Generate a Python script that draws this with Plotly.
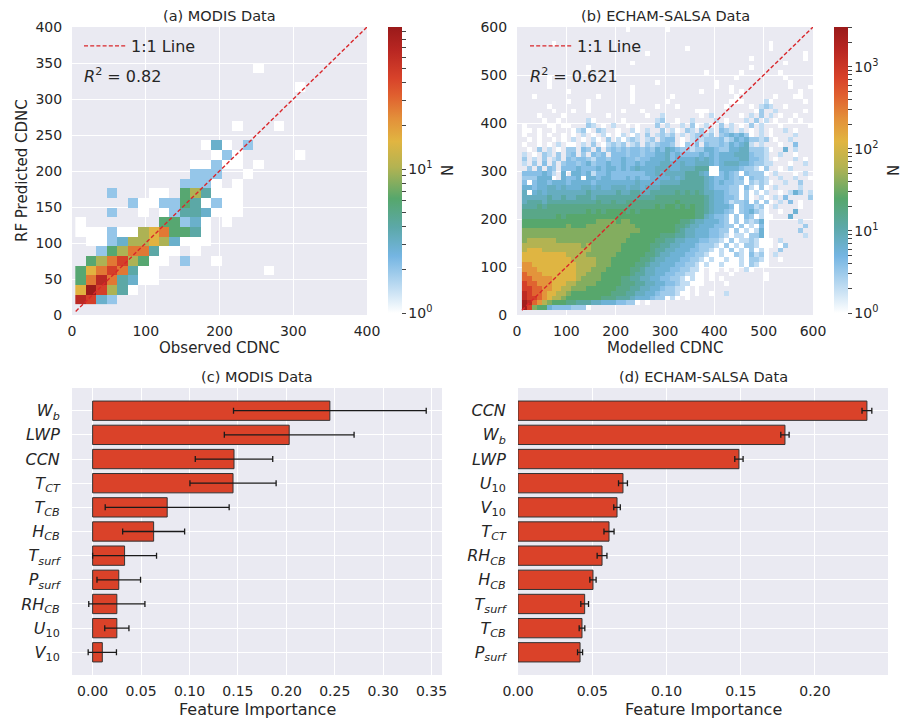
import numpy as np
import plotly.graph_objects as go

# ---------------- DATA ----------------
# (a) MODIS 2D histogram, rows top -> bottom, '.' = empty bin, codes map to counts
MODIS_ROWS = [
    "...........|......0....",
    "...........|...........",
    "...........|..........0",
    "...........|...........",
    "...........|...........",
    "...........|...........",
    "...........|....0...0..",
    "...........|...........",
    "...........|.030.2.....",
    "...........|..020.....0",
    "...........|00200.0....",
    "...........|222..0.....",
    "..........2|220.0......",
    "...2...00.5|64000......",
    ".....200225|40200......",
    "...2..0.024|43000......",
    "0.......552|30.0.......",
    "00020067855|40.........",
    ".0023667630|00.........",
    "..25688400.|0..........",
    ".56896500.2|..0........",
    "57898400...|.......0...",
    "58a84300...|...........",
    "7b9640.....|...........",
    "a932.......|...........",
]
MODIS_CODES = "0123456789ab"
MODIS_COUNTS = [1, 2, 2, 3, 4, 6, 10, 16, 27, 45, 65, 95]
MODIS_X0, MODIS_DX, MODIS_NX = 4.5, 14.2, 22
MODIS_Y0, MODIS_DY = 14.8, 13.4
MODIS_VMAX = 97

# (b) ECHAM-SALSA 2D histogram, rows top -> bottom
ECHAM_ROWS = [
    "..........|..........|.0.......0|..........|..........|.........",
    "..........|..........|..........|..........|..........|.........",
    "..........|..........|..........|..........|..........|.........",
    "......0...|..........|..........|..........|..........|0........",
    "..........|..........|..........|...0......|..........|0........",
    "..........|..........|.....0....|..........|..........|.......0.",
    "..........|..........|..........|..........|......0...|.......0.",
    "..........|..........|..0.......|..........|..........|...0.....",
    "..........|...0......|..........|..........|......0...|.........",
    "..........|..........|..........|.......0..|....0.....|..0......",
    ".....0....|..........|..........|..........|...0......|...0.....",
    ".....0....|..........|.......0..|.........0|..........|....0....",
    ".....0....|..........|..0.......|.........0|..0.......|....0...0",
    ".........0|..........|..0.......|......0...|..0.0.....|......0..",
    "..0.......|.....0....|..0.......|0.........|...0......|.0...00..",
    ".........0|...0......|..0......0|..........|..000....1|0......0.",
    ".....0....|...0......|.......0..|.0........|.0....0.12|1..0.....",
    "......0...|0..0......|0...0.....|.....000..|.......02.|.1.....0.",
    "...0....0.|.......0..|.....0..1.|......0.1.|....0.1.2.|1.0..0...",
    "....0..0..|...10.....|0......12.|.0..1....1|.0...1.2.1|.0..0.0..",
    "0....00.00|...21.0.1.|.0.0...2.1|..1.20.1..|2.1.0.2.1.|..0.....0",
    "00.0..0...|0120.21..0|..10.1..2.|10.21.2.1.|321.1.0.1.|0..1.0...",
    "0..0.0..0.|0.1.0.10.0|1.01.2.121|2.1.12212.|2343420.1.|0....1...",
    ".0.0..0.0.|1.0.10.2.1|0121.12.23|3.0.121222|3124342212|.0..1....",
    "0..0.0.1.0|0.1.2.0121|2.12.21233|2.0213.322|3243451.1.|..0..3...",
    ".0.2.1.0.2|2.32.3.232|3233232435|4322122443|2244552221|0..4.1...",
    "1.0.21.2.2|3.2.323.33|3233233445|3433334343|4445553221|..1..0...",
    "2.1.2.12.3|2332133233|4332334445|3444454543|4444553321|.0...1.0.",
    "1.2.3.2.23|3234233433|4334344455|4454455543|4555443221|1...0..1.",
    ".2.3.32.33|3433343443|4345444555|4455566600|4444322102|..0.1....",
    "3333431.4.|4434133433|3333344545|5556665400|3432032220|.1...0.1.",
    "2224440.43|3404434433|3434334444|5456666543|3432303221|..1..1..0",
    "3034434443|4444344444|4445444455|5566666543|4332202121|0..1..2..",
    "4434455454|4455454455|5455455566|6666666543|3322031020|.1....1..",
    "5045455555|5556555556|5566556666|6767676554|4322020101|..0.142.1",
    "5555565565|5666566666|6666666777|7777777654|4332020.10|.1.3....2",
    "5666566666|6666676676|6777777777|7877777654|4312230202|0.1.3.0..",
    "6667677777|7777777777|7777777878|8787877654|4430233120|.1....0..",
    "7777777777|7778787888|8787888888|8888877654|4320234210|..0..4...",
    "7777777878|8888888888|8888888888|8888877543|3202032010|0...4....",
    "8888888888|8888899998|9988888888|8877655444|3202021240|......1..",
    "8888888889|8889999999|9998888888|8776554443|3220201030|.......2.",
    "9999999999|9999999999|9999888888|8765544433|2202010140|......2..",
    "9999999999|9999999999|9988888877|7665544433|2101102240|.......1.",
    "9aaaaaa999|9999999999|9888888776|6554443322|1020112100|0.1......",
    "aaaaaaaaaa|aa9a999999|8888887766|5544432221|0201022100|0.02.....",
    "abbbaaaaaa|aaaa999999|8888887665|5444332210|1020102010|..2......",
    "bbbbbbbbba|aaa9999998|8888877655|4443322100|1002103120|.1.......",
    "bbbbbbbbbb|aaaaa99988|8888776554|4433221010|0100102210|..0......",
    "ccbbbbbbbb|baaaa99988|8887765544|4332210100|1000102100|.........",
    "cccbbbbbbb|baaa999888|8877655444|3322110.00|.0.0.10...|.........",
    "dcccbbbbbb|baa9998888|8876655443|3221100.0.|..0......0|.........",
    "ddccccbbbb|ba99998888|7766554433|2210100.0.|0........0|.........",
    "eddcccbbba|a999988888|7776655443|3211000...|.0........|.........",
    "eeddccbbaa|9998888887|7766554432|2110.0....|..........|.........",
    "feddcbbaa9|8888888877|7665544322|2100.0..0.|.1........|.........",
    "feedcbaa98|8888887776|6654443220|10.0......|..........|.........",
    "gfdca98887|7666554443|3220.0....|..........|..........|.........",
    "ge98843333|2220......|..........|..........|..........|.........",
]
ECHAM_CODES = "0123456789abcdefg"
ECHAM_COUNTS = [1, 2, 3, 4, 6, 8, 12, 17, 25, 38, 60, 120, 220, 420, 800, 1400, 2600]
ECHAM_X0, ECHAM_DX, ECHAM_NX = 10, 10, 59
ECHAM_Y0, ECHAM_DY = 10, 10
ECHAM_VMAX = 3060

line_a = [5, 400]
line_b = [10, 600]
r2_a = "0.82"
r2_b = "0.621"

# (c) MODIS feature importance
modis_features = ["W_b", "LWP", "CCN", "T_CT", "T_CB", "H_CB", "T_surf", "P_surf", "RH_CB", "U_10", "V_10"]
modis_importance = [0.245, 0.203, 0.146, 0.145, 0.077, 0.063, 0.033, 0.027, 0.025, 0.025, 0.010]
modis_err = [0.0995, 0.067, 0.040, 0.0445, 0.064, 0.032, 0.033, 0.0225, 0.029, 0.0125, 0.0146]

# (d) ECHAM-SALSA feature importance
echam_features = ["CCN", "W_b", "LWP", "U_10", "V_10", "T_CT", "RH_CB", "H_CB", "T_surf", "T_CB", "P_surf"]
echam_importance = [0.235, 0.1798, 0.1488, 0.0707, 0.0667, 0.0613, 0.0566, 0.0505, 0.0449, 0.0431, 0.0418]
echam_err = [0.0033, 0.0028, 0.0028, 0.0030, 0.0022, 0.0034, 0.0033, 0.0021, 0.0026, 0.0019, 0.0017]

LABELS = {
    "W_b": "<i>W</i><sub><i>b</i></sub>",
    "LWP": "<i>LWP</i>",
    "CCN": "<i>CCN</i>",
    "T_CT": "<i>T</i><sub><i>CT</i></sub>",
    "T_CB": "<i>T</i><sub><i>CB</i></sub>",
    "H_CB": "<i>H</i><sub><i>CB</i></sub>",
    "T_surf": "<i>T</i><sub><i>surf</i></sub>",
    "P_surf": "<i>P</i><sub><i>surf</i></sub>",
    "RH_CB": "<i>RH</i><sub><i>CB</i></sub>",
    "U_10": "<i>U</i><sub>10</sub>",
    "V_10": "<i>V</i><sub>10</sub>",
}

# ---------------- HELPERS ----------------
W, H = 905, 719
FONT = "DejaVu Sans"
TXT = "#262626"
BG = "#eaeaf2"


def px(x):
    return x / W


def py(y):
    return 1 - y / H


def decode(rows, codes, counts, ncols):
    grid = []
    for row in reversed(rows):
        s = row.replace("|", "")
        s = (s + "." * ncols)[:ncols]
        grid.append([None if ch == "." else float(np.log10(counts[codes.index(ch)])) for ch in s])
    return grid


colorscale = [
    [0.00, "#ffffff"],
    [0.09, "#bfdcf2"],
    [0.20, "#74b5e2"],
    [0.30, "#5ca8a8"],
    [0.40, "#56a76c"],
    [0.51, "#b3b352"],
    [0.60, "#e1b541"],
    [0.68, "#e3903a"],
    [0.76, "#e0602f"],
    [0.82, "#d8432a"],
    [0.92, "#b82622"],
    [1.00, "#9a1a1a"],
]


def cbar_ticks(ndec, vmax):
    vals, txt = [], []
    for d in range(ndec + 1):
        for m in range(1, 10):
            v = float(np.log10(m * 10 ** d))
            if v <= np.log10(vmax):
                vals.append(v)
                txt.append(f"10<sup>{d}</sup>" if m == 1 else " ")
    return vals, txt


modis_grid = decode(MODIS_ROWS, MODIS_CODES, MODIS_COUNTS, MODIS_NX)
echam_grid = decode(ECHAM_ROWS, ECHAM_CODES, ECHAM_COUNTS, ECHAM_NX)
mx = (MODIS_X0 + MODIS_DX * np.arange(MODIS_NX + 1)).tolist()
my = (MODIS_Y0 + MODIS_DY * np.arange(len(MODIS_ROWS) + 1)).tolist()
ex = (ECHAM_X0 + ECHAM_DX * np.arange(ECHAM_NX + 1)).tolist()
ey = (ECHAM_Y0 + ECHAM_DY * np.arange(len(ECHAM_ROWS) + 1)).tolist()

ta_v, ta_t = cbar_ticks(1, MODIS_VMAX)
tb_v, tb_t = cbar_ticks(3, ECHAM_VMAX)

CB_COMMON = dict(thickness=14, len=286 / H, lenmode="fraction", y=py(170), yanchor="middle",
                 xanchor="left", outlinewidth=0, ticks="outside", ticklen=4, tickwidth=1,
                 tickcolor="#444444", tickfont=dict(family=FONT, size=14, color=TXT), xpad=0, ypad=0)

fig = go.Figure()

fig.add_trace(go.Heatmap(
    z=modis_grid, x=mx, y=my, colorscale=colorscale, zmin=0, zmax=float(np.log10(MODIS_VMAX)),
    xaxis="x", yaxis="y", hoverinfo="skip",
    colorbar=dict(x=px(388), tickvals=ta_v, ticktext=ta_t, **CB_COMMON),
))
fig.add_trace(go.Heatmap(
    z=echam_grid, x=ex, y=ey, colorscale=colorscale, zmin=0, zmax=float(np.log10(ECHAM_VMAX)),
    xaxis="x2", yaxis="y2", hoverinfo="skip",
    colorbar=dict(x=px(834), tickvals=tb_v, ticktext=tb_t, **CB_COMMON),
))

LINE = dict(color="#d9262a", width=1.4, dash="4px,2.2px")
fig.add_trace(go.Scatter(x=line_a, y=line_a, mode="lines", line=LINE, name="1:1 Line",
                         xaxis="x", yaxis="y", legend="legend", hoverinfo="skip"))
fig.add_trace(go.Scatter(x=line_b, y=line_b, mode="lines", line=LINE, name="1:1 Line",
                         xaxis="x2", yaxis="y2", legend="legend2", hoverinfo="skip"))

BAR = dict(color="#da4229", line=dict(color="#333333", width=1))
ERR = dict(color="#1a1a1a", thickness=1.3, width=3)
fig.add_trace(go.Bar(
    x=modis_importance, y=list(range(len(modis_features))), orientation="h", width=0.8,
    marker=BAR, error_x=dict(type="data", array=modis_err, **ERR),
    xaxis="x3", yaxis="y3", showlegend=False, hoverinfo="skip"))
fig.add_trace(go.Bar(
    x=echam_importance, y=list(range(len(echam_features))), orientation="h", width=0.8,
    marker=BAR, error_x=dict(type="data", array=echam_err, **ERR),
    xaxis="x4", yaxis="y4", showlegend=False, hoverinfo="skip"))

TICKFONT = dict(family=FONT, size=14, color=TXT)


def ax(domain, rng, tickvals, anchor, **kw):
    d = dict(domain=domain, range=rng, tickvals=tickvals, anchor=anchor, showgrid=True,
             gridcolor="white", gridwidth=1, zeroline=False, showline=False, ticks="outside",
             ticklen=6, tickcolor="rgba(0,0,0,0)", tickfont=TICKFONT, fixedrange=True,
             automargin=False)
    d.update(kw)
    return d


dom_top = [py(315), py(27)]
dom_bot = [py(675), py(388)]

layout = dict(
    width=W, height=H, margin=dict(l=0, r=0, t=0, b=0, pad=0, autoexpand=False),
    paper_bgcolor="white", plot_bgcolor=BG,
    font=dict(family=FONT, color=TXT),
    xaxis=ax([px(72), px(367)], [0, 400], [0, 100, 200, 300, 400], "y", ticklen=3),
    yaxis=ax(dom_top, [0, 400], list(range(0, 401, 50)), "x"),
    xaxis2=ax([px(517), px(813)], [0, 600], list(range(0, 601, 100)), "y2", ticklen=3),
    yaxis2=ax(dom_top, [0, 600], list(range(0, 601, 100)), "x2"),
    xaxis3=ax([px(72), px(442)], [-0.0213, 0.3608], [0, 0.05, 0.1, 0.15, 0.2, 0.25, 0.3, 0.35], "y3",
              tickformat=".2f", ticklen=3),
    yaxis3=ax(dom_bot, [10.94, -0.94], list(range(len(modis_features))), "x3",
              ticktext=[LABELS[f] for f in modis_features], ticklen=8,
              tickfont=dict(family=FONT, size=16, color=TXT)),
    xaxis4=ax([px(518), px(888)], [0, 0.2492], [0, 0.05, 0.1, 0.15, 0.2], "y4", tickformat=".2f",
              ticklen=3),
    yaxis4=ax(dom_bot, [10.94, -0.94], list(range(len(echam_features))), "x4",
              ticktext=[LABELS[f] for f in echam_features], ticklen=8,
              tickfont=dict(family=FONT, size=16, color=TXT)),
    legend=dict(x=px(79), y=py(29), xanchor="left", yanchor="top", bgcolor="rgba(0,0,0,0)",
                itemwidth=42, font=dict(family=FONT, size=16, color=TXT)),
    legend2=dict(x=px(525), y=py(29), xanchor="left", yanchor="top", bgcolor="rgba(0,0,0,0)",
                 itemwidth=42, font=dict(family=FONT, size=16, color=TXT)),
    barmode="overlay",
)


def ann(text, x, y, size=14, angle=0, xanchor="center"):
    return dict(text=text, x=px(x), y=py(y), xref="paper", yref="paper", showarrow=False,
                xanchor=xanchor, yanchor="middle", textangle=angle,
                font=dict(family=FONT, size=size, color=TXT))


layout["annotations"] = [
    ann("(a) MODIS Data", 219.5, 16, 14.5),
    ann("(b) ECHAM-SALSA Data", 665, 16, 14.5),
    ann("(c) MODIS Data", 257, 377, 14.5),
    ann("(d) ECHAM-SALSA Data", 703, 377, 14.5),
    ann("Observed CDNC", 219.5, 348, 15),
    ann("Modelled CDNC", 665, 348, 15),
    ann("RF Predicted CDNC", 22, 171, 15, -90),
    ann("N", 448, 171, 15, -90),
    ann("N", 894, 171, 15, -90),
    ann("Feature Importance", 257, 709, 16),
    ann("Feature Importance", 703, 709, 16),
    ann(f"<i>R</i><sup>2</sup> = {r2_a}", 82, 76, 16, xanchor="left"),
    ann(f"<i>R</i><sup>2</sup> = {r2_b}", 528, 76, 16, xanchor="left"),
]

fig.update_layout(**layout)
fig.write_html("out.html", config={"displayModeBar": False, "staticPlot": True},
               post_script="document.body.style.margin='0px';")
